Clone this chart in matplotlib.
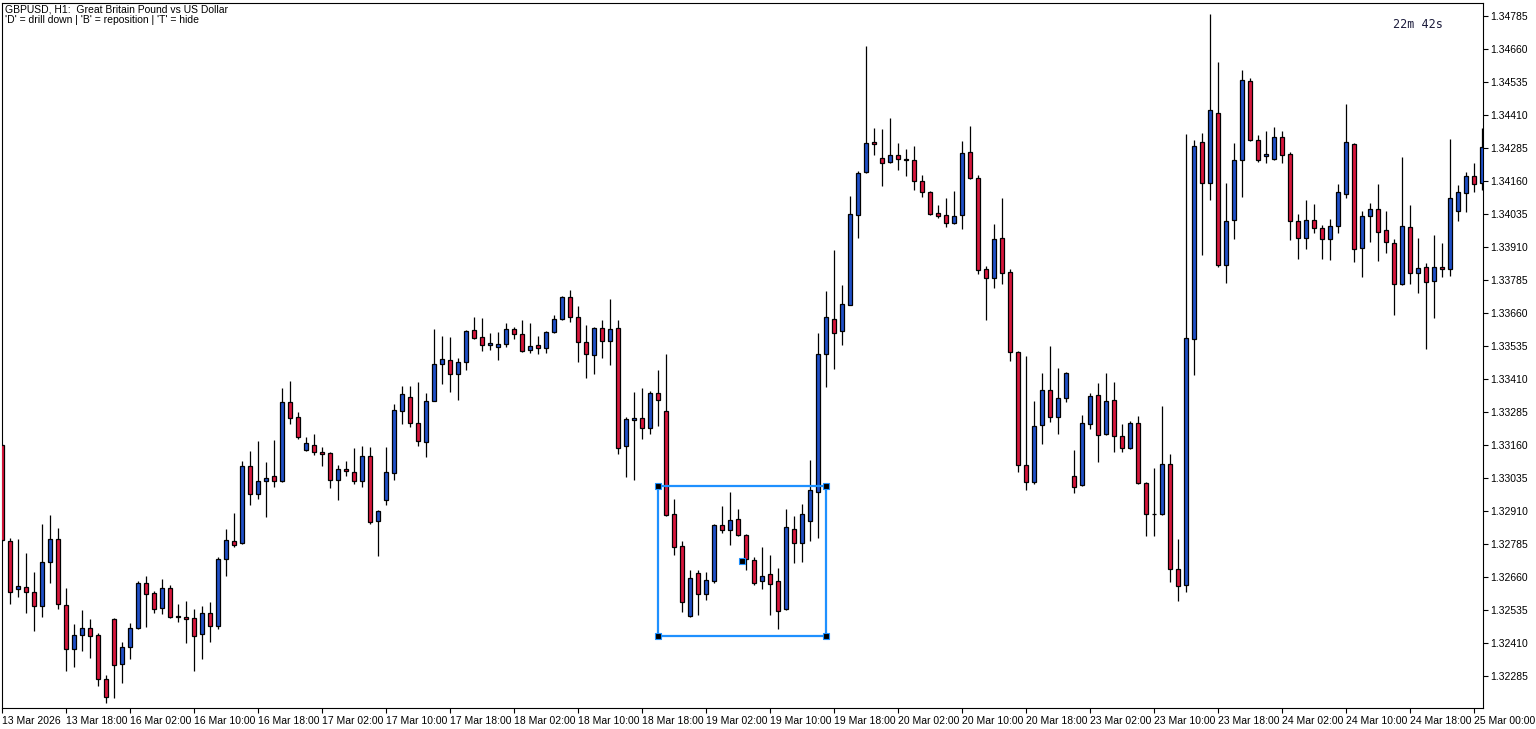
import matplotlib
matplotlib.use('Agg')
import matplotlib.pyplot as plt

# GBPUSD H1 candles, 13 Mar 2026 10:00 onwards (one entry per bar)
opens = [1.33160, 1.32796, 1.32615, 1.32622, 1.32603, 1.32550, 1.32717, 1.32804, 1.32554, 1.32387,
         1.32440, 1.32467, 1.32440, 1.32274, 1.32501, 1.32330, 1.32395, 1.32467, 1.32637, 1.32599,
         1.32543, 1.32618, 1.32509, 1.32509, 1.32505, 1.32444, 1.32524, 1.32474, 1.32728, 1.32796,
         1.32789, 1.33080, 1.32974, 1.33024, 1.33043, 1.33024, 1.33323, 1.33266, 1.33141, 1.33160,
         1.33133, 1.33130, 1.33027, 1.33069, 1.33058, 1.33024, 1.33118, 1.32872, 1.32952, 1.33054,
         1.33289, 1.33342, 1.33243, 1.33171, 1.33327, 1.33467, 1.33482, 1.33429, 1.33474, 1.33596,
         1.33569, 1.33539, 1.33531, 1.33543, 1.33599, 1.33580, 1.33520, 1.33539, 1.33527, 1.33588,
         1.33637, 1.33721, 1.33645, 1.33550, 1.33501, 1.33603, 1.33554, 1.33603, 1.33156, 1.33255,
         1.33262, 1.33224, 1.33357, 1.33289, 1.32899, 1.32777, 1.32512, 1.32675, 1.32596, 1.32645,
         1.32857, 1.32838, 1.32880, 1.32819, 1.32724, 1.32645, 1.32671, 1.32645, 1.32539, 1.32842,
         1.32789, 1.32872, 1.32982, 1.33505, 1.33637, 1.33592, 1.33690, 1.34031, 1.34194, 1.34308,
         1.34247, 1.34232, 1.34258, 1.34243, 1.34240, 1.34160, 1.34118, 1.34039, 1.34031, 1.34001,
         1.34031, 1.34270, 1.34171, 1.33827, 1.33793, 1.33944, 1.33815, 1.33512, 1.33084, 1.33020,
         1.33236, 1.33368, 1.33266, 1.33338, 1.33043, 1.33008, 1.33240, 1.33349, 1.33202, 1.33330,
         1.33194, 1.33149, 1.33243, 1.33016, 1.32899, 1.32899, 1.33088, 1.32690, 1.32630, 1.33561,
         1.34308, 1.34152, 1.34418, 1.33842, 1.34012, 1.34240, 1.34539, 1.34315, 1.34255, 1.34243,
         1.34327, 1.34262, 1.34008, 1.33944, 1.34012, 1.33982, 1.33940, 1.33990, 1.34111, 1.34300,
         1.33906, 1.34027, 1.34054, 1.33975, 1.33925, 1.33770, 1.33986, 1.33812, 1.33834, 1.33781,
         1.33834, 1.33827, 1.34046, 1.34115, 1.34179, 1.34152]
highs = [1.33164, 1.32808, 1.32804, 1.32751, 1.32679, 1.32861, 1.32895, 1.32846, 1.32618, 1.32482,
         1.32535, 1.32501, 1.32448, 1.32289, 1.32505, 1.32414, 1.32486, 1.32645, 1.32664, 1.32607,
         1.32652, 1.32630, 1.32558, 1.32569, 1.32539, 1.32550, 1.32565, 1.32736, 1.32842, 1.32902,
         1.33099, 1.33137, 1.33175, 1.33096, 1.33179, 1.33376, 1.33402, 1.33285, 1.33190, 1.33202,
         1.33152, 1.33134, 1.33084, 1.33099, 1.33149, 1.33156, 1.33152, 1.32914, 1.33152, 1.33315,
         1.33384, 1.33384, 1.33399, 1.33357, 1.33599, 1.33573, 1.33569, 1.33490, 1.33596, 1.33645,
         1.33641, 1.33584, 1.33588, 1.33622, 1.33607, 1.33634, 1.33622, 1.33573, 1.33592, 1.33652,
         1.33724, 1.33747, 1.33686, 1.33614, 1.33607, 1.33634, 1.33713, 1.33634, 1.33266, 1.33361,
         1.33376, 1.33365, 1.33444, 1.33505, 1.32955, 1.32796, 1.32687, 1.32687, 1.32679, 1.32861,
         1.32929, 1.32982, 1.32918, 1.32823, 1.32736, 1.32774, 1.32743, 1.32694, 1.32918, 1.32891,
         1.32937, 1.33103, 1.33584, 1.33743, 1.33899, 1.33766, 1.34103, 1.34198, 1.34671, 1.34361,
         1.34357, 1.34399, 1.34304, 1.34281, 1.34292, 1.34183, 1.34122, 1.34069, 1.34096, 1.34122,
         1.34312, 1.34368, 1.34183, 1.33838, 1.33997, 1.34096, 1.33827, 1.33516, 1.33497, 1.33327,
         1.33433, 1.33535, 1.33452, 1.33437, 1.33141, 1.33274, 1.33357, 1.33395, 1.33433, 1.33399,
         1.33240, 1.33251, 1.33270, 1.33020, 1.33073, 1.33307, 1.33126, 1.32804, 1.34338, 1.34315,
         1.34342, 1.34793, 1.34611, 1.34152, 1.34304, 1.34580, 1.34550, 1.34334, 1.34349, 1.34365,
         1.34349, 1.34270, 1.34035, 1.34088, 1.34073, 1.33993, 1.34016, 1.34149, 1.34452, 1.34304,
         1.34046, 1.34077, 1.34149, 1.34046, 1.33940, 1.34251, 1.34069, 1.33944, 1.33850, 1.33955,
         1.33925, 1.34319, 1.34145, 1.34194, 1.34228, 1.34361]
lows = [1.32796, 1.32558, 1.32584, 1.32524, 1.32455, 1.32509, 1.32637, 1.32539, 1.32304, 1.32319,
        1.32380, 1.32353, 1.32247, 1.32183, 1.32202, 1.32259, 1.32349, 1.32463, 1.32471, 1.32524,
        1.32520, 1.32505, 1.32490, 1.32410, 1.32304, 1.32349, 1.32414, 1.32463, 1.32664, 1.32774,
        1.32785, 1.32933, 1.32955, 1.32887, 1.33001, 1.33020, 1.33240, 1.33183, 1.33138, 1.33122,
        1.33080, 1.32997, 1.32952, 1.33043, 1.33012, 1.33001, 1.32861, 1.32740, 1.32933, 1.33027,
        1.33240, 1.33228, 1.33156, 1.33115, 1.33325, 1.33391, 1.33361, 1.33330, 1.33444, 1.33561,
        1.33516, 1.33520, 1.33482, 1.33531, 1.33561, 1.33512, 1.33508, 1.33505, 1.33508, 1.33584,
        1.33633, 1.33626, 1.33474, 1.33414, 1.33429, 1.33490, 1.33463, 1.33126, 1.33039, 1.33027,
        1.33183, 1.33202, 1.33232, 1.32891, 1.32743, 1.32527, 1.32509, 1.32516, 1.32573, 1.32637,
        1.32827, 1.32781, 1.32815, 1.32687, 1.32630, 1.32615, 1.32516, 1.32463, 1.32535, 1.32713,
        1.32717, 1.32796, 1.32808, 1.33380, 1.33448, 1.33539, 1.33690, 1.33944, 1.34190, 1.34258,
        1.34141, 1.34228, 1.34202, 1.34179, 1.34126, 1.34099, 1.34031, 1.34020, 1.33986, 1.33997,
        1.33978, 1.34168, 1.33808, 1.33633, 1.33755, 1.33770, 1.33478, 1.33058, 1.32990, 1.33012,
        1.33164, 1.33247, 1.33202, 1.33323, 1.32978, 1.33005, 1.33221, 1.33096, 1.33198, 1.33133,
        1.33133, 1.33145, 1.33012, 1.32815, 1.32815, 1.32895, 1.32641, 1.32569, 1.32603, 1.33425,
        1.33880, 1.34088, 1.33834, 1.33774, 1.33940, 1.34099, 1.34311, 1.34232, 1.34228, 1.34240,
        1.34228, 1.33937, 1.33865, 1.33902, 1.33963, 1.33865, 1.33861, 1.33963, 1.34096, 1.33853,
        1.33796, 1.33929, 1.33857, 1.33887, 1.33652, 1.33766, 1.33770, 1.33736, 1.33524, 1.33641,
        1.33796, 1.33800, 1.34008, 1.34042, 1.34118, 1.34126]
closes = [1.32800, 1.32603, 1.32626, 1.32603, 1.32550, 1.32717, 1.32804, 1.32558, 1.32387, 1.32440,
          1.32467, 1.32437, 1.32274, 1.32205, 1.32327, 1.32395, 1.32467, 1.32637, 1.32596, 1.32539,
          1.32618, 1.32509, 1.32512, 1.32501, 1.32437, 1.32524, 1.32474, 1.32728, 1.32800, 1.32781,
          1.33080, 1.32974, 1.33024, 1.33035, 1.33024, 1.33323, 1.33262, 1.33190, 1.33167, 1.33133,
          1.33126, 1.33027, 1.33069, 1.33062, 1.33024, 1.33118, 1.32868, 1.32910, 1.33058, 1.33293,
          1.33353, 1.33243, 1.33175, 1.33327, 1.33467, 1.33486, 1.33429, 1.33474, 1.33592, 1.33565,
          1.33539, 1.33546, 1.33543, 1.33599, 1.33580, 1.33516, 1.33535, 1.33527, 1.33588, 1.33637,
          1.33721, 1.33645, 1.33550, 1.33505, 1.33603, 1.33554, 1.33599, 1.33149, 1.33258, 1.33262,
          1.33224, 1.33357, 1.33330, 1.32895, 1.32774, 1.32565, 1.32656, 1.32596, 1.32649, 1.32857,
          1.32838, 1.32876, 1.32819, 1.32728, 1.32637, 1.32664, 1.32633, 1.32531, 1.32849, 1.32789,
          1.32899, 1.32990, 1.33505, 1.33645, 1.33584, 1.33694, 1.34035, 1.34190, 1.34304, 1.34300,
          1.34228, 1.34258, 1.34243, 1.34240, 1.34160, 1.34118, 1.34035, 1.34027, 1.34001, 1.34027,
          1.34266, 1.34171, 1.33823, 1.33793, 1.33940, 1.33812, 1.33512, 1.33084, 1.33020, 1.33232,
          1.33368, 1.33266, 1.33338, 1.33433, 1.33001, 1.33243, 1.33346, 1.33198, 1.33327, 1.33194,
          1.33149, 1.33243, 1.33016, 1.32899, 1.32897, 1.33088, 1.32690, 1.32626, 1.33565, 1.34293,
          1.34152, 1.34429, 1.33842, 1.34008, 1.34240, 1.34543, 1.34315, 1.34240, 1.34262, 1.34327,
          1.34258, 1.34008, 1.33944, 1.34012, 1.33982, 1.33940, 1.33990, 1.34118, 1.34308, 1.33902,
          1.34027, 1.34054, 1.33967, 1.33929, 1.33770, 1.33990, 1.33812, 1.33830, 1.33777, 1.33834,
          1.33827, 1.34096, 1.34118, 1.34179, 1.34149, 1.34289]

price_ticks = [1.32285, 1.32410, 1.32535, 1.32660, 1.32785, 1.32910, 1.33035, 1.33160, 1.33285,
               1.33410, 1.33535, 1.33660, 1.33785, 1.33910, 1.34035, 1.34160, 1.34285, 1.34410,
               1.34535, 1.34660, 1.34785]
time_ticks = [0, 8, 16, 24, 32, 40, 48, 56, 64, 72, 80, 88, 96, 104, 112, 120, 128, 136,
              144, 152, 160, 168, 176, 184]
time_labels = ['13 Mar 2026', '13 Mar 18:00', '16 Mar 02:00', '16 Mar 10:00', '16 Mar 18:00',
               '17 Mar 02:00', '17 Mar 10:00', '17 Mar 18:00', '18 Mar 02:00', '18 Mar 10:00',
               '18 Mar 18:00', '19 Mar 02:00', '19 Mar 10:00', '19 Mar 18:00', '20 Mar 02:00',
               '20 Mar 10:00', '20 Mar 18:00', '23 Mar 02:00', '23 Mar 10:00', '23 Mar 18:00',
               '24 Mar 02:00', '24 Mar 10:00', '24 Mar 18:00', '25 Mar 00:00']

# drawn rectangle object (bar index / price corners)
box_bars = [82, 103]
box_prices = [1.32436, 1.33005]

title_line = 'GBPUSD, H1:  Great Britain Pound vs US Dollar'
hint_line = "'D' = drill down | 'B' = reposition | 'T' = hide"
timer_text = '22m 42s'

bull_col = '#2050c8'
bear_col = '#d8163c'
box_col = '#1e90ff'

W, H = 1536, 729
fig = plt.figure(figsize=(W / 100, H / 100), dpi=100)
fig.patch.set_facecolor('white')
ax = fig.add_axes([2 / W, 21 / H, 1481 / W, 705 / H])

idx = list(range(len(opens)))
body_lo = [min(o, c) for o, c in zip(opens, closes)]
body_h = [max(abs(c - o), 0.000004) for o, c in zip(opens, closes)]
cols = [bull_col if c >= o else bear_col for o, c in zip(opens, closes)]

ax.vlines(idx, lows, highs, color='black', linewidth=0.9, zorder=2)
ax.bar(idx, body_h, bottom=body_lo, width=0.5, color=cols, edgecolor='black',
       linewidth=0.9, zorder=3)

# rectangle with its handles
bx = [box_bars[0], box_bars[1], box_bars[1], box_bars[0], box_bars[0]]
by = [box_prices[0], box_prices[0], box_prices[1], box_prices[1], box_prices[0]]
ax.plot(bx, by, color=box_col, linewidth=1.6, zorder=4)
hx = [box_bars[0], box_bars[1], box_bars[0], box_bars[1], (box_bars[0] + box_bars[1]) / 2]
hy = [box_prices[0], box_prices[0], box_prices[1], box_prices[1], (box_prices[0] + box_prices[1]) / 2]
ax.plot(hx, hy, linestyle='none', marker='s', markersize=4.5, markerfacecolor='black',
        markeredgecolor=box_col, markeredgewidth=0.8, zorder=5)

ax.set_xlim(-0.0375, -0.0375 + 1481 / 8)
ax.set_ylim(1.3216379, 1.3483424)

for s in ax.spines.values():
    s.set_color('black')
    s.set_linewidth(0.8)

ax.yaxis.tick_right()
ax.set_yticks(price_ticks)
ax.set_yticklabels(['%.5f' % p for p in price_ticks])
ax.tick_params(axis='y', direction='out', length=3.5, width=0.8, pad=1.5,
               labelsize=7.5, colors='black')

ax.set_xticks(time_ticks)
ax.set_xticklabels(time_labels)
ax.tick_params(axis='x', direction='out', length=3.5, width=0.8, pad=2,
               labelsize=7.5, colors='black')
for lab in ax.get_xticklabels():
    lab.set_horizontalalignment('left')
for lab in ax.get_xticklabels() + ax.get_yticklabels():
    lab.set_fontfamily('Liberation Sans')

fig.text(5 / W, 1 - 9 / H, title_line, fontsize=7.5, family='Liberation Sans',
         va='center', ha='left')
fig.text(5 / W, 1 - 20 / H, hint_line, fontsize=7.5, family='Liberation Sans',
         va='center', ha='left')
fig.text(1393 / W, 1 - 25 / H, timer_text, fontsize=8.5, family='DejaVu Sans Mono',
         color='#1c1c3c', va='center', ha='left')

fig.savefig('out.png', dpi=100, facecolor='white')
